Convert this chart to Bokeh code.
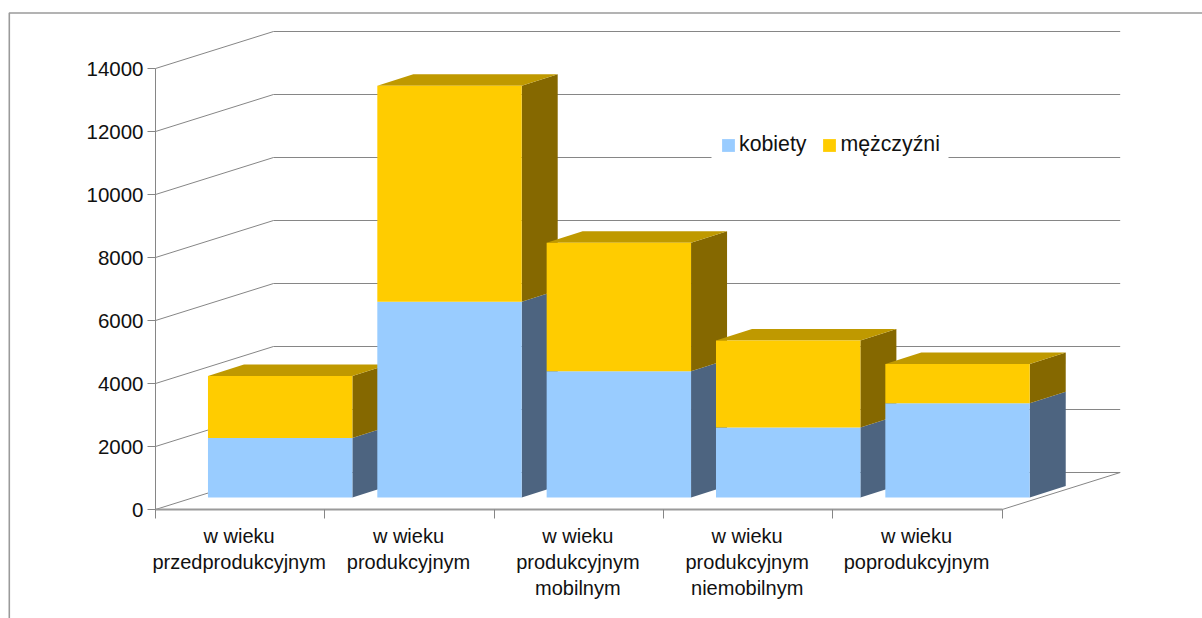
from bokeh.plotting import figure
from bokeh.models import LinearAxis, FixedTicker, Range1d, Legend, LegendItem
from bokeh.core.properties import value
from bokeh.embed import file_html
from bokeh.resources import INLINE

categories = ["w wieku\nprzedprodukcyjnym", "w wieku\nprodukcyjnym", "w wieku\nprodukcyjnym\nmobilnym",
              "w wieku\nprodukcyjnym\nniemobilnym", "w wieku\npoprodukcyjnym"]
kobiety = [1890, 6215, 4005, 2225, 2990]
mezczyzni = [1968, 6857, 4080, 2762, 1250]
y_ticks = [0, 2000, 4000, 6000, 8000, 10000, 12000, 14000]

W, H = 1202, 618
X0, Y0 = 155.0, 509.0          # pixel of the axes' origin
PX_CAT, PX_VAL = 169.34, 0.0315 # pixels per category, pixels per unit of value
FONT = "Liberation Sans"
GRID, AX = "#868686", "#9a9a9a"
C_K = ("#99CCFF", "#4D6480")
C_M = ("#FFCC00", "#856800", "#BF9900")

dx = lambda px: px / PX_CAT
dy = lambda px: px / PX_VAL
px_y = lambda py: (Y0 - py) / PX_VAL
px_x = lambda px: (px - X0) / PX_CAT

p = figure(width=W, height=H, toolbar_location=None, output_backend="svg",
           x_axis_type=None, y_axis_type=None, min_border=0, outline_line_color=None,
           x_range=Range1d(px_x(0), px_x(W)), y_range=Range1d(px_y(H), px_y(0)))
p.grid.visible = False
p.styles = {"position": "absolute", "left": "0px", "top": "0px"}

# outer frame (left and top edges only are in view)
p.line([px_x(8.8), px_x(8.8), px_x(W)], [px_y(H), px_y(12.5), px_y(12.5)], line_color=AX, line_width=1.6)

# walls and floor
WX, WY = dx(118), dy(37)
n = len(categories)
p.multi_line([[0, WX, n + WX] for _ in y_ticks], [[v, v + WY, v + WY] for v in y_ticks],
             line_color=GRID, line_width=1)
p.line([n, n + WX], [0, WY], line_color=GRID, line_width=1)

# white box behind the legend, interrupting the grid
p.quad(left=[px_x(711)], right=[px_x(948)], bottom=[px_y(159)], top=[px_y(128)], fill_color="white", line_color=None)

# bars, painted left to right
OFFX, OFFY = dx(40.0), dy(12.0)
HALF = dx(72.2)
DX, DY = dx(36), dy(11.5)
rk = rm = None
for i, (k, m) in enumerate(zip(kobiety, mezczyzni)):
    l = i + 0.5 + OFFX - HALF
    r = i + 0.5 + OFFX + HALF
    b = OFFY
    s = b + k
    t = s + m
    p.patch([r, r + DX, r + DX, r], [b, b + DY, s + DY, s], fill_color=C_K[1], line_color=None)
    p.patch([r, r + DX, r + DX, r], [s, s + DY, t + DY, t], fill_color=C_M[1], line_color=None)
    p.patch([l, l + DX, r + DX, r], [t, t + DY, t + DY, t], fill_color=C_M[2], line_color=None)
    rk = p.quad(left=[l], right=[r], bottom=[b], top=[s], fill_color=C_K[0], line_color=None)
    rm = p.quad(left=[l], right=[r], bottom=[s], top=[t], fill_color=C_M[0], line_color=None)

# axes
yaxis = LinearAxis(fixed_location=0, ticker=FixedTicker(ticks=y_ticks), bounds=(0, 14000),
                   axis_line_color=GRID, major_tick_line_color=GRID, major_tick_out=8, major_tick_in=0,
                   minor_tick_line_color=None, major_label_standoff=4,
                   major_label_text_font=FONT, major_label_text_font_size="20.5px",
                   major_label_text_color="#111111")
p.add_layout(yaxis, "left")
xaxis = LinearAxis(fixed_location=0, ticker=FixedTicker(ticks=[], minor_ticks=list(range(n + 1))), bounds=(0, n),
                   axis_line_color=AX, axis_line_width=2, minor_tick_line_color=GRID, minor_tick_out=9, minor_tick_in=0,
                   major_tick_line_color=None, major_label_text_font_size="0px")
p.add_layout(xaxis, "below")

# category labels
p.text(x=[i + 0.5 - dx(1) for i in range(n)], y=[px_y(524)] * n, text=categories, text_align="center", text_baseline="top",
       text_font=value(FONT), text_font_size="20px", text_color="#111111", text_line_height=1.2)

# legend
legend = Legend(items=[LegendItem(label="kobiety", renderers=[rk]), LegendItem(label="mężczyźni", renderers=[rm])],
                orientation="horizontal", location=(720, H - 157), background_fill_alpha=0,
                border_line_color=None, glyph_width=16, glyph_height=16, padding=10, spacing=15,
                label_standoff=3, margin=0, label_text_font=FONT, label_text_font_size="21.3px",
                label_text_color="#111111")
p.add_layout(legend, "center")

open("out.html", "w").write(file_html(p, INLINE))
